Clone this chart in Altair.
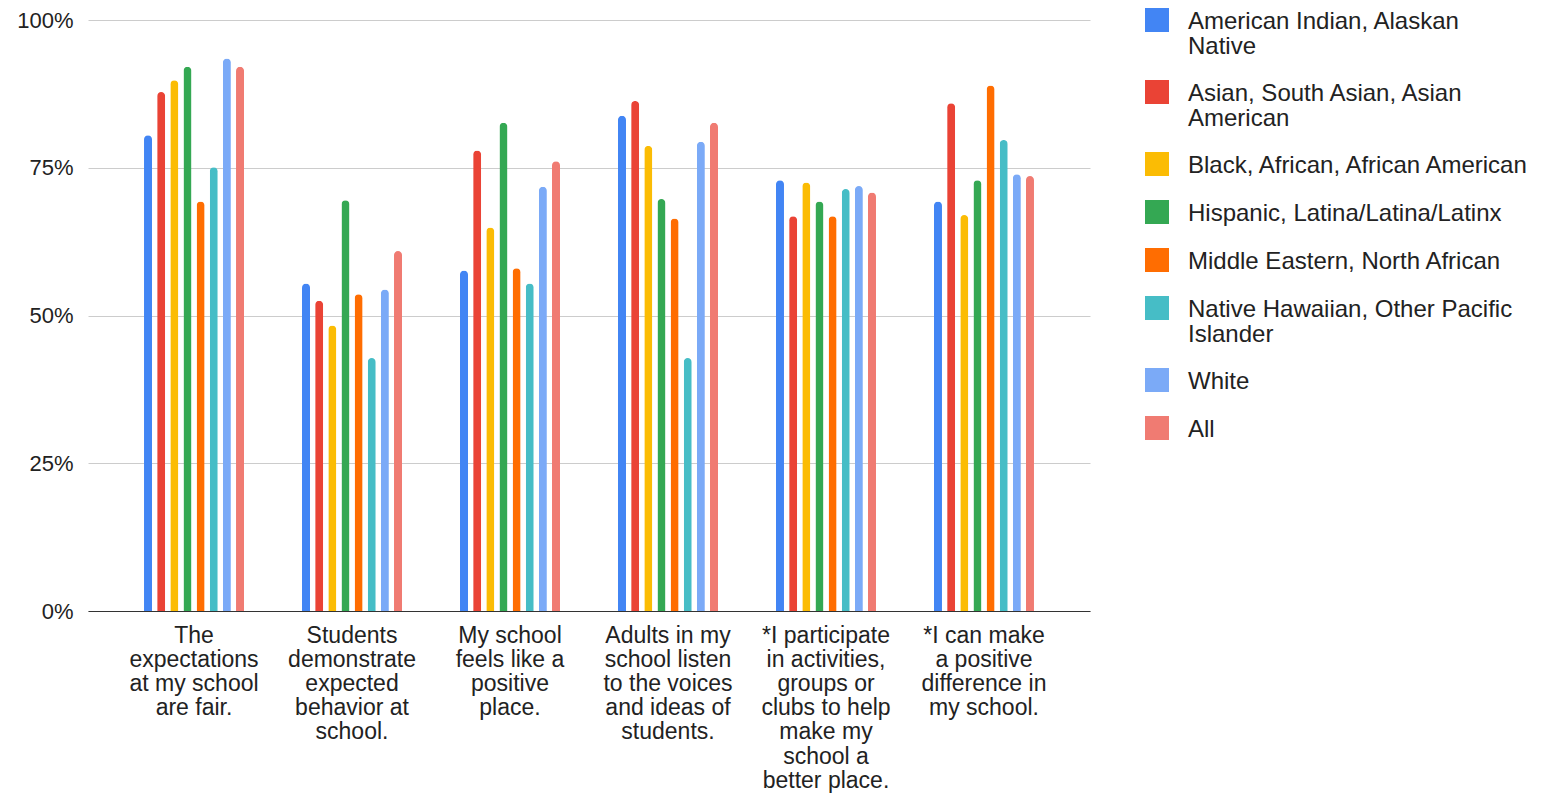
import altair as alt
import pandas as pd

FONT = "Liberation Sans"
TEXT = "#222222"

# Questions (x categories) and their wrapped display lines
categories = [
    "The expectations at my school are fair.",
    "Students demonstrate expected behavior at school.",
    "My school feels like a positive place.",
    "Adults in my school listen to the voices and ideas of students.",
    "*I participate in activities, groups or clubs to help make my school a better place.",
    "*I can make a positive difference in my school.",
]
category_lines = [
    ["The", "expectations", "at my school", "are fair."],
    ["Students", "demonstrate", "expected", "behavior at", "school."],
    ["My school", "feels like a", "positive", "place."],
    ["Adults in my", "school listen", "to the voices", "and ideas of", "students."],
    ["*I participate", "in activities,", "groups or", "clubs to help", "make my", "school a", "better place."],
    ["*I can make", "a positive", "difference in", "my school."],
]

# Groups (series)
series = [
    "American Indian, Alaskan Native",
    "Asian, South Asian, Asian American",
    "Black, African, African American",
    "Hispanic, Latina/Latina/Latinx",
    "Middle Eastern, North African",
    "Native Hawaiian, Other Pacific Islander",
    "White",
    "All",
]
series_lines = [
    ["American Indian, Alaskan", "Native"],
    ["Asian, South Asian, Asian", "American"],
    ["Black, African, African American"],
    ["Hispanic, Latina/Latina/Latinx"],
    ["Middle Eastern, North African"],
    ["Native Hawaiian, Other Pacific", "Islander"],
    ["White"],
    ["All"],
]
colors = ["#4285F4", "#EA4335", "#FBBC04", "#34A853", "#FF6D01", "#46BDC6", "#7BAAF7", "#F07B72"]

# Percent agreeing, one list per question, in series order
expectations_fair = [80.5, 87.8, 89.8, 92.1, 69.3, 75.1, 93.5, 92.1]
expected_behavior = [55.4, 52.5, 48.3, 69.5, 53.6, 42.8, 54.4, 60.9]
positive_place = [57.6, 77.9, 64.9, 82.6, 58.0, 55.4, 71.8, 76.1]
adults_listen = [83.8, 86.3, 78.7, 69.7, 66.4, 42.8, 79.4, 82.6]
participate = [72.9, 66.8, 72.5, 69.3, 66.8, 71.4, 71.9, 70.8]
make_difference = [69.3, 85.9, 67.0, 72.9, 88.9, 79.7, 73.9, 73.6]
values = [expectations_fair, expected_behavior, positive_place,
          adults_listen, participate, make_difference]

question_labels = ["\n".join(l) for l in category_lines]
rows = []
for ci, q in enumerate(question_labels):
    for si, s in enumerate(series):
        rows.append({"question": q, "group": s, "pct": values[ci][si]})
df = pd.DataFrame(rows)

color_scale = alt.Scale(domain=series, range=colors)

bars = alt.Chart(df).mark_bar(cornerRadiusTopLeft=4, cornerRadiusTopRight=4).encode(
    x=alt.X(
        "question:N", sort=question_labels,
        scale=alt.Scale(paddingInner=0.367, paddingOuter=0.3545),
        axis=alt.Axis(
            title=None, labelAngle=0, labelExpr="split(datum.label, '\\n')",
            labelFontSize=23, labelLineHeight=24.2, labelPadding=13, labelLimit=400,
            labelColor=TEXT, labelFont=FONT, ticks=False, domainColor="#333333",
            domainWidth=1, grid=False,
        ),
    ),
    xOffset=alt.XOffset("group:N", sort=series, scale=alt.Scale(paddingInner=0.391, paddingOuter=0)),
    y=alt.Y(
        "pct:Q", scale=alt.Scale(domain=[0, 100], nice=False),
        axis=alt.Axis(
            title=None, values=[0, 25, 50, 75, 100], labelExpr="datum.value + '%'",
            labelFontSize=22, labelPadding=15, labelColor=TEXT, labelFont=FONT,
            ticks=False, domain=False, gridColor="#cccccc", gridWidth=1, minExtent=75,
        ),
    ),
    color=alt.Color("group:N", sort=series, scale=color_scale, legend=None),
).properties(width=1002, height=591)

# Manual legend: each entry takes (lines + 1) row units
leg_rows = []
pos = 0
for s, lines in zip(series, series_lines):
    leg_rows.append({"group": s, "label": "\n".join(lines), "row": pos})
    pos += len(lines) + 1
leg_df = pd.DataFrame(leg_rows)

unit_px = 24.0
leg_y = alt.Y("row:Q", scale=alt.Scale(domain=[0, 591 / unit_px], reverse=True, nice=False, zero=True), axis=None)
leg_base = alt.Chart(leg_df).encode(y=leg_y)
leg_sym = leg_base.mark_square(size=576, opacity=1, filled=True).encode(
    x=alt.value(13),
    color=alt.Color("group:N", scale=color_scale, legend=None),
)
leg_txt = leg_base.mark_text(
    align="left", baseline="top", dy=-10.5, fontSize=24, lineHeight=25,
    lineBreak="\n", color=TEXT, font=FONT,
).encode(x=alt.value(44), text="label:N")
legend = (leg_sym + leg_txt).properties(width=380, height=591)

chart = alt.hconcat(bars, legend, spacing=54).properties(
    padding={"left": 5, "top": 0, "right": 5, "bottom": 0}
).configure(font=FONT).configure_view(stroke=None)

chart.save("out.html", embed_options={"renderer": "svg", "actions": False})
